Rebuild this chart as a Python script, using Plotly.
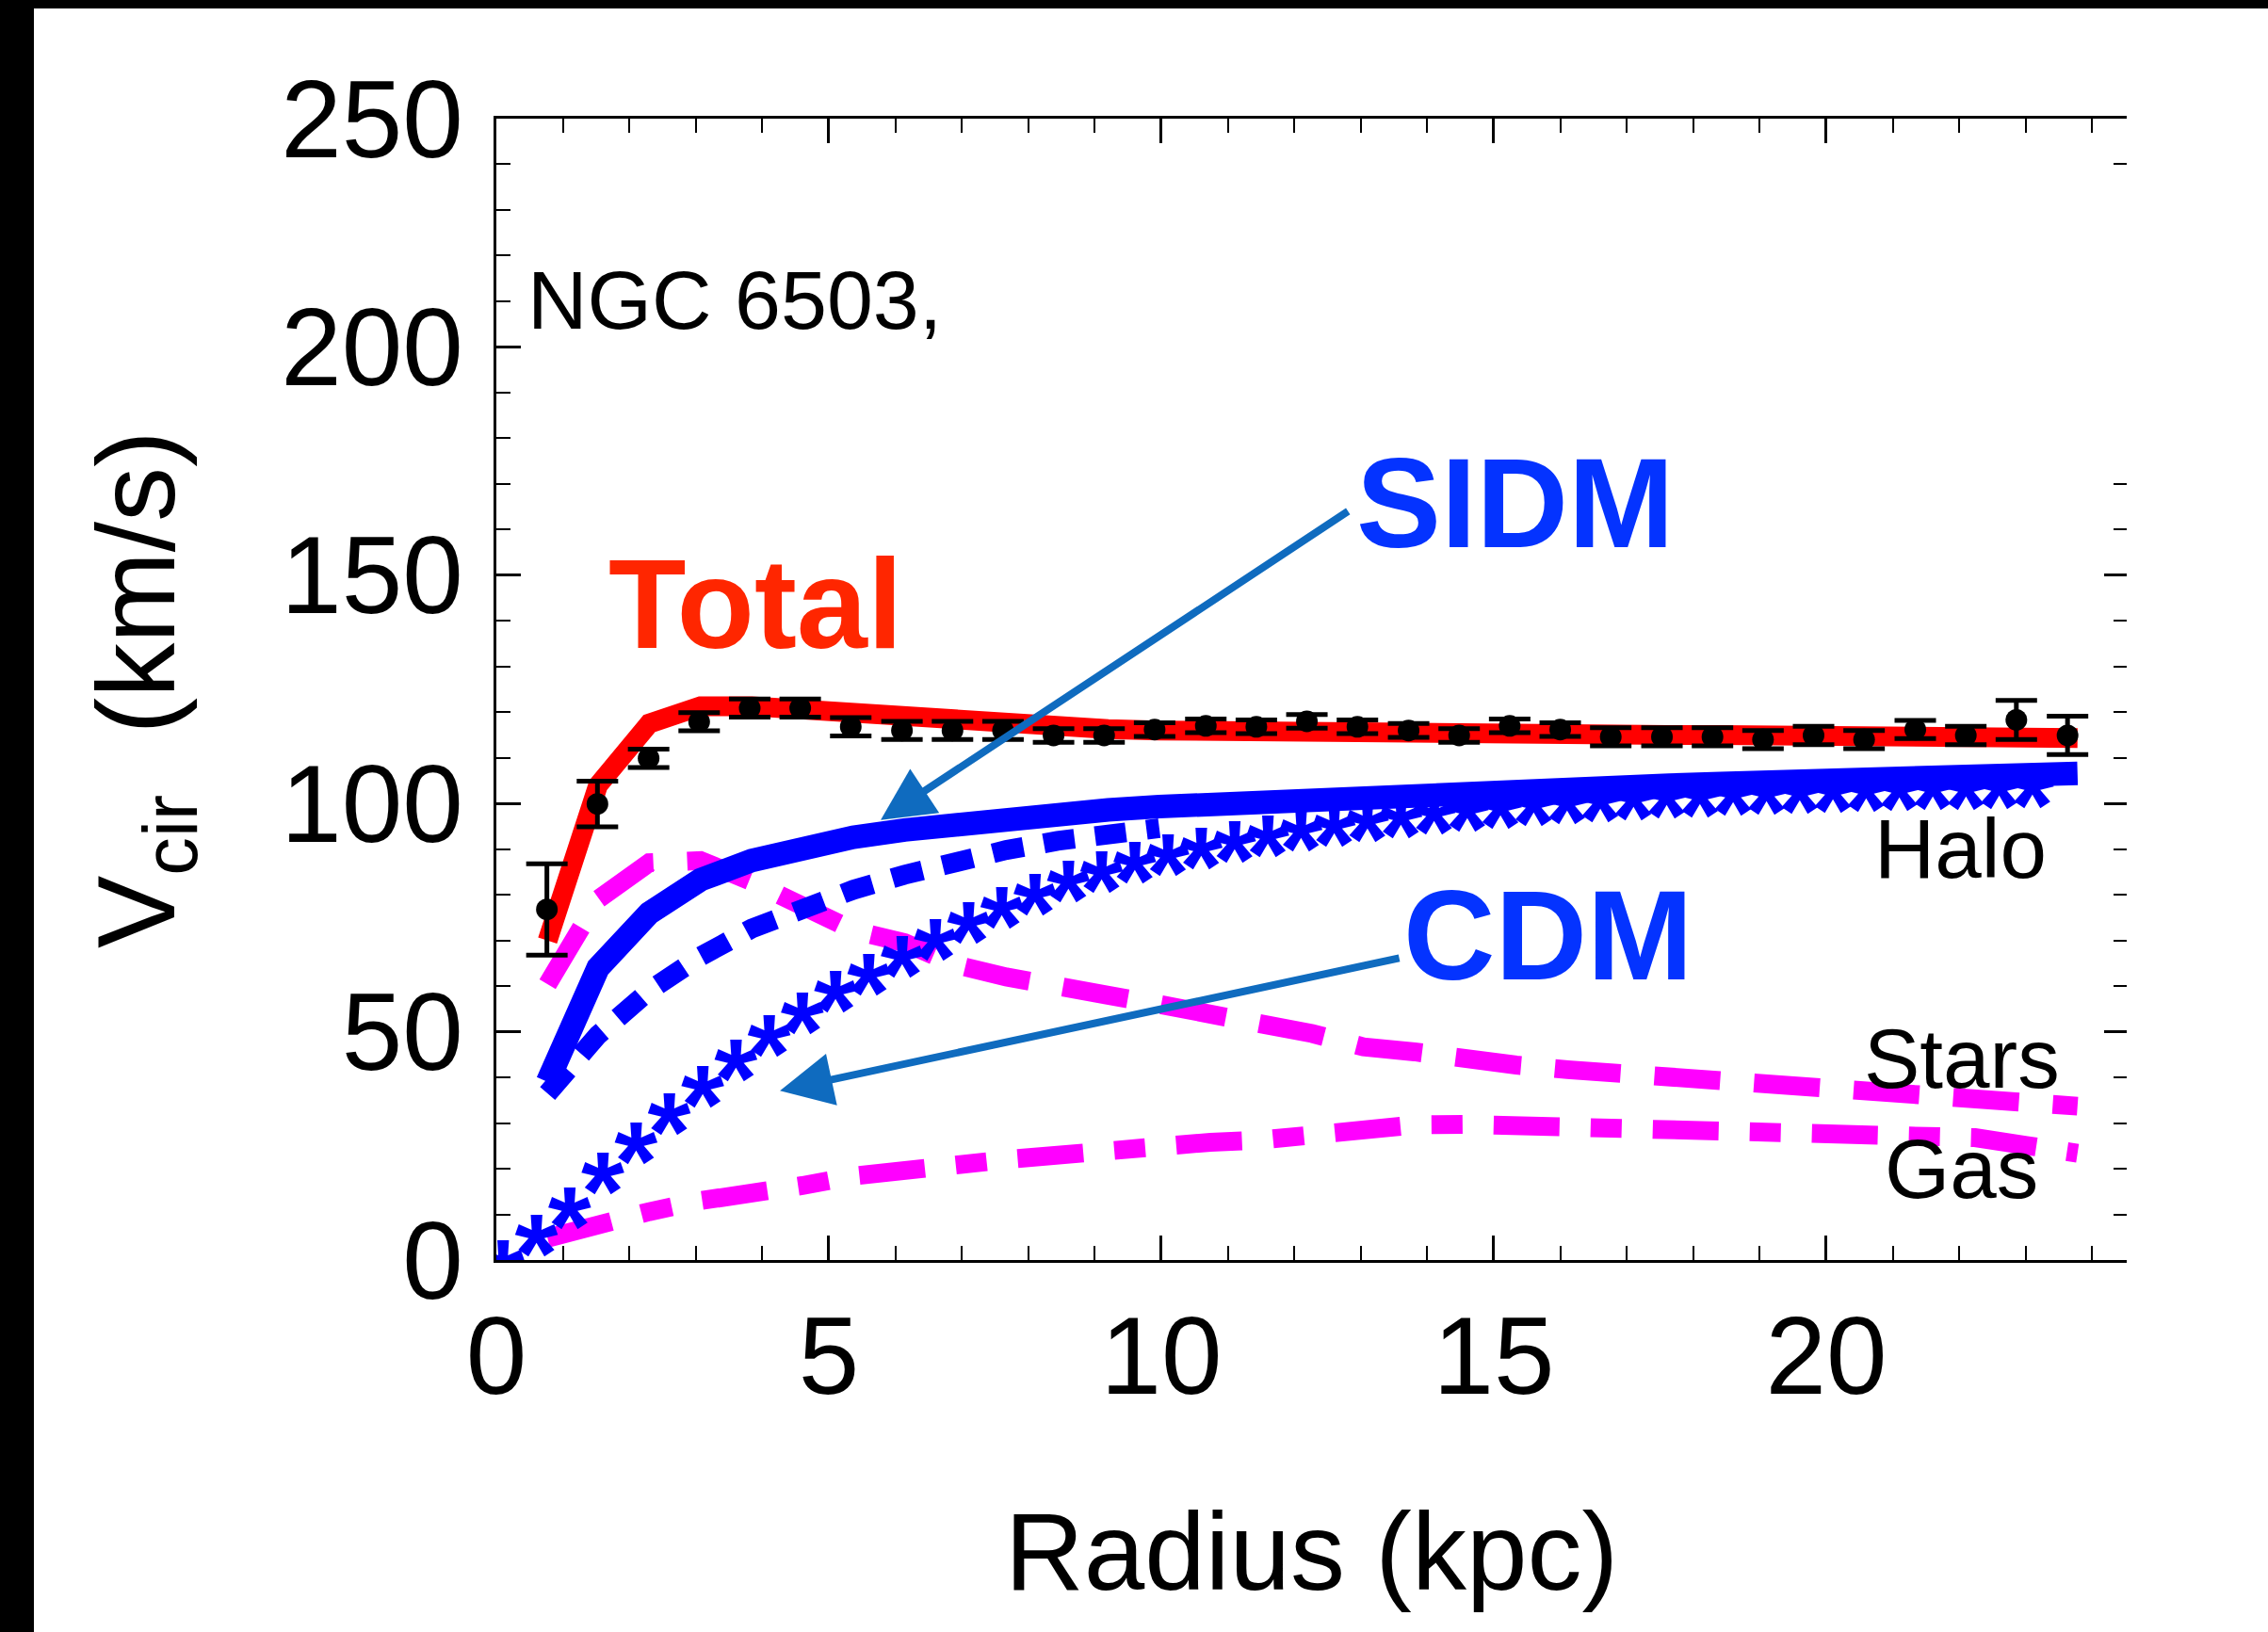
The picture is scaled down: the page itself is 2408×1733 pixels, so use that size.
import plotly.graph_objects as go

# ---------------- data ----------------
r_obs = [0.76, 1.52, 2.29, 3.05, 3.81, 4.57, 5.33, 6.10, 6.86, 7.62, 8.38, 9.14, 9.90, 10.67,
         11.43, 12.19, 12.95, 13.72, 14.48, 15.24, 16.00, 16.76, 17.53, 18.29, 19.05, 19.81,
         20.57, 21.34, 22.10, 22.86, 23.63]
v_obs = [76.8, 99.9, 109.9, 117.9, 120.9, 120.9, 116.8, 116.0, 116.0, 116.0, 114.9, 114.9,
         116.2, 117.0, 116.8, 118.0, 116.8, 116.0, 114.9, 117.0, 116.2, 114.6, 114.6, 114.6,
         114.0, 114.9, 114.0, 116.2, 114.9, 118.3, 114.9]
e_obs = [10.0, 5.0, 2.0, 2.0, 2.0, 2.0, 2.0, 2.0, 2.0, 2.0, 1.5, 1.5, 1.5, 1.5, 1.5, 1.5,
         1.5, 1.5, 1.5, 1.5, 1.5, 2.0, 2.0, 2.0, 2.0, 2.0, 2.0, 2.0, 2.0, 4.3, 4.2]

r_model = [0.77, 1.53, 2.30, 3.07, 3.84, 4.60, 5.37, 6.14, 6.90, 7.67, 8.44, 9.20, 9.97,
           10.74, 11.51, 12.27, 13.04, 13.81, 14.57, 15.34, 16.11, 16.87, 17.64, 18.41,
           19.18, 19.94, 20.71, 21.48, 22.24, 23.01, 23.78]
v_total = [70.0, 104.0, 117.5, 121.3, 121.3, 120.5, 119.5, 118.5, 117.8, 117.2, 116.7, 116.3,
           116.0, 115.8, 115.7, 115.6, 115.5, 115.4, 115.3, 115.3, 115.2, 115.1, 115.0, 115.0,
           114.9, 114.8, 114.7, 114.6, 114.5, 114.4, 114.3]
v_sidm = [39.0, 64.0, 76.0, 83.3, 87.5, 90.5, 92.6, 94.2, 95.6, 96.8, 97.8, 98.6, 99.3, 99.9,
          100.5, 101.0, 101.5, 102.0, 102.4, 102.8, 103.2, 103.6, 104.0, 104.4, 104.7, 105.0,
          105.4, 105.7, 106.0, 106.3, 106.6]
v_stars = [60.4, 79.0, 87.0, 87.5, 82.9, 78.1, 72.2, 69.5, 64.7, 62.0, 59.5, 58.0, 56.0, 53.5,
           51.7, 49.6, 46.7, 45.6, 43.9, 42.7, 41.7, 40.9, 39.9, 38.7, 37.8, 37.0, 36.3, 35.5,
           34.8, 34.3, 33.7]
v_gas = [4.8, 7.9, 10.6, 13.0, 14.3, 16.3, 18.4, 20.0, 20.8, 22.0, 23.2, 24.3, 25.2, 25.8,
         26.3, 27.6, 29.0, 29.6, 29.7, 29.4, 28.6, 28.5, 28.5, 28.1, 27.8, 27.7, 27.6, 27.4,
         26.8, 25.1, 23.4]

r_halo_dash = [0.77, 1.53, 2.30, 3.07, 3.84, 4.60, 5.37, 6.14, 6.90, 7.67, 8.44, 9.20, 9.97]
v_halo_dash = [36.5, 49.3, 59.0, 66.5, 72.6, 77.2, 81.1, 84.4, 87.4, 89.8, 91.8, 93.4, 94.6]

r_cdm = [0.1, 0.6, 1.1, 1.6, 2.1, 2.6, 3.1, 3.6, 4.1, 4.6, 5.1, 5.6, 6.1, 6.6, 7.1, 7.6,
         8.1, 8.6, 9.1, 9.6, 10.1, 10.6, 11.1, 11.6, 12.1, 12.6, 13.1, 13.6, 14.1, 14.6,
         15.1, 15.6, 16.1, 16.6, 17.1, 17.6, 18.1, 18.6, 19.1, 19.6, 20.1, 20.6, 21.1,
         21.6, 22.1, 22.6, 23.1]
v_cdm = [0.5, 6.2, 12.2, 19.8, 26.4, 32.7, 38.8, 44.4, 49.9, 54.9, 59.6, 63.3, 67.2, 70.8,
         74.6, 78.0, 80.8, 83.6, 85.8, 87.8, 89.5, 91.0, 92.4, 93.6, 94.8, 95.8, 96.8, 97.7,
         98.5, 99.2, 99.8, 100.4, 100.9, 101.3, 101.7, 102.0, 102.3, 102.6, 102.9, 103.1,
         103.3, 103.5, 103.7, 103.9, 104.0, 104.2, 104.3]

x_range = [0, 24.52]
y_range = [0, 250]
x_ticks = [0, 5, 10, 15, 20]
y_ticks = [0, 50, 100, 150, 200, 250]

# ---------------- styling ----------------
FONT = "Liberation Sans, Arial, sans-serif"
W, H = 2408, 1733
ML, MR, MT, MB = 527, 150, 126, 395
PW, PH = W - ML - MR, H - MT - MB
MAGENTA = "#FF00FF"
BLUE = "#0000FF"
RED = "#FF0000"
ARROW = "#0F6BBF"
STAR_FS = 118
# asterisk glyph centre sits above the text anchor -> shift that axis by it
star_shift = 0.29 * STAR_FS / (PH / (y_range[1] - y_range[0]))

fig = go.Figure()

fig.add_trace(go.Scatter(x=r_model, y=v_gas, mode="lines", yaxis="y",
                         line=dict(color=MAGENTA, width=20, dash="70px,33px,33px,33px"),
                         showlegend=False, hoverinfo="skip"))
fig.add_trace(go.Scatter(x=r_model, y=v_stars, mode="lines", yaxis="y",
                         line=dict(color=MAGENTA, width=20, dash="70px,36px"),
                         showlegend=False, hoverinfo="skip"))
fig.add_trace(go.Scatter(x=r_halo_dash, y=v_halo_dash, mode="lines", yaxis="y",
                         line=dict(color=BLUE, width=21, dash="33px,22px"),
                         showlegend=False, hoverinfo="skip"))
# right-hand tick axis holder
fig.add_trace(go.Scatter(x=[1], y=[1], mode="markers", yaxis="y2",
                         marker=dict(opacity=0), showlegend=False, hoverinfo="skip"))
# CDM halo drawn with asterisks
fig.add_trace(go.Scatter(x=r_cdm, y=v_cdm, mode="text", yaxis="y3",
                         text=["*"] * len(r_cdm), textposition="middle center",
                         textfont=dict(family="Liberation Sans", size=STAR_FS, color=BLUE,
                                       weight="bold"),
                         showlegend=False, hoverinfo="skip"))
fig.add_trace(go.Scatter(x=r_model, y=v_sidm, mode="lines", yaxis="y4",
                         line=dict(color=BLUE, width=25),
                         showlegend=False, hoverinfo="skip"))
fig.add_trace(go.Scatter(x=r_model, y=v_total, mode="lines", yaxis="y4",
                         line=dict(color=RED, width=21),
                         showlegend=False, hoverinfo="skip"))
fig.add_trace(go.Scatter(x=r_obs, y=v_obs, mode="markers", yaxis="y4",
                         marker=dict(color="black", size=23),
                         error_y=dict(type="data", array=e_obs, color="black",
                                      thickness=5, width=22),
                         showlegend=False, hoverinfo="skip"))

tick_common = dict(ticks="inside", tickwidth=2.5, tickcolor="black",
                   showgrid=False, zeroline=False)

fig.update_layout(
    width=W, height=H,
    margin=dict(l=ML, r=MR, t=MT, b=MB, pad=0),
    paper_bgcolor="white", plot_bgcolor="white",
    font=dict(family=FONT, color="black", size=116),
    xaxis=dict(range=x_range, tickvals=x_ticks, ticklen=26, showline=True, linewidth=3,
               linecolor="black", mirror="ticks",
               minor=dict(dtick=1, ticks="inside", ticklen=15, tickwidth=2, tickcolor="black"),
               tickfont=dict(size=116), ticklabelstandoff=0, **tick_common),
    yaxis=dict(range=y_range, tickvals=y_ticks, ticklen=26, showline=True, linewidth=3,
               linecolor="black",
               minor=dict(dtick=10, ticks="inside", ticklen=15, tickwidth=2, tickcolor="black"),
               tickfont=dict(size=116), ticklabelstandoff=9, **tick_common),
    yaxis2=dict(range=y_range, overlaying="y", side="right", showline=False,
                tickvals=[0, 50, 100, 150], ticklen=24, showticklabels=False,
                minor=dict(tickvals=[10, 20, 30, 40, 60, 70, 80, 90, 110, 120, 130, 140,
                                     160, 170, 240],
                           ticks="inside", ticklen=14, tickwidth=2, tickcolor="black"),
                **tick_common),
    yaxis3=dict(range=[y_range[0] + star_shift, y_range[1] + star_shift], overlaying="y",
                visible=False),
    yaxis4=dict(range=y_range, overlaying="y", visible=False),
)

annotations = [
    # axis titles
    dict(text="Radius (kpc)", xref="paper", yref="paper", x=0.5, y=(PH - 1648 + MT) / PH,
         xanchor="center", yanchor="middle", showarrow=False, font=dict(size=116)),
    dict(text="V<sub>cir</sub>  (km/s)", xref="paper", yref="paper",
         x=(153 - ML) / PW, y=0.5, textangle=-90,
         xanchor="center", yanchor="middle", showarrow=False, font=dict(size=116)),
    # labels
    dict(text="NGC 6503,", x=0.44, y=210.2, xanchor="left", yanchor="middle",
         showarrow=False, font=dict(size=88)),
    dict(text="<b>Total</b>", x=1.66, y=143.7, xanchor="left", yanchor="middle",
         showarrow=False, font=dict(size=135, color="#FF2600")),
    dict(text="<b>SIDM</b>", x=12.9, y=165.7, xanchor="left", yanchor="middle",
         showarrow=False, font=dict(size=135, color="#0433FF")),
    dict(text="<b>CDM</b>", x=13.61, y=71.1, xanchor="left", yanchor="middle",
         showarrow=False, font=dict(size=135, color="#0433FF")),
    dict(text="Halo", x=20.69, y=90.1, xanchor="left", yanchor="middle",
         showarrow=False, font=dict(size=89)),
    dict(text="Stars", x=20.54, y=44.2, xanchor="left", yanchor="middle",
         showarrow=False, font=dict(size=89)),
    dict(text="Gas", x=20.85, y=20.0, xanchor="left", yanchor="middle",
         showarrow=False, font=dict(size=89)),
    # arrows
    dict(text="", x=5.78, y=96.4, ax=12.83, ay=164.2, axref="x", ayref="y",
         showarrow=True, arrowhead=2, arrowsize=1.4, arrowwidth=8, arrowcolor=ARROW,
         standoff=0),
    dict(text="", x=4.265, y=37.1, ax=13.6, ay=66.2, axref="x", ayref="y",
         showarrow=True, arrowhead=2, arrowsize=1.4, arrowwidth=8, arrowcolor=ARROW,
         standoff=0),
]
fig.update_layout(annotations=annotations)

# black frame strips at the left and top edges of the picture
fig.add_shape(type="rect", xref="paper", yref="paper",
              x0=-ML / PW, x1=(36 - ML) / PW, y0=-MB / PH, y1=(PH + MT) / PH,
              fillcolor="black", line=dict(width=0))
fig.add_shape(type="rect", xref="paper", yref="paper",
              x0=-ML / PW, x1=(W - ML) / PW, y0=(PH + MT - 9) / PH, y1=(PH + MT) / PH,
              fillcolor="black", line=dict(width=0))

fig.write_html("out.html", config={"displayModeBar": False},
               post_script="document.body.style.margin='0px';"
                           "document.body.style.overflow='hidden';")
